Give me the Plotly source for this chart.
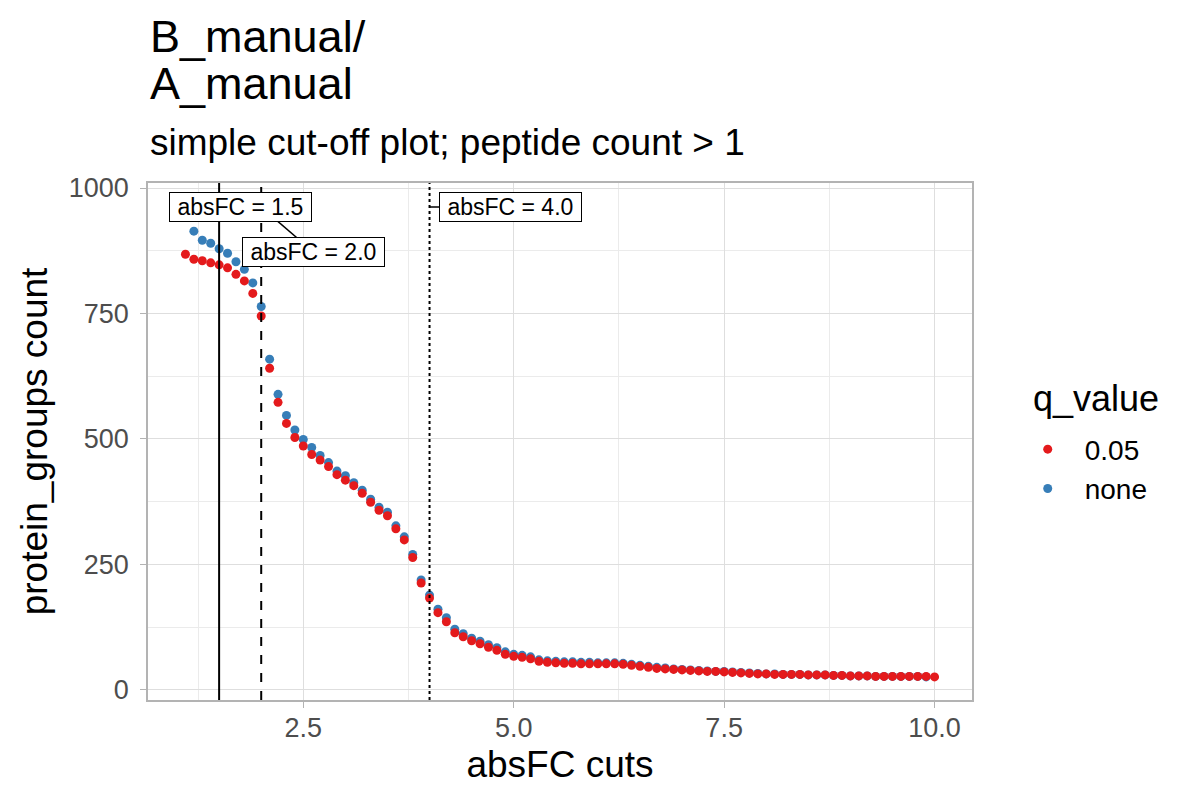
import plotly.graph_objects as go

# absFC cut values (x) for each q_value group
cuts_005 = [1.1, 1.2, 1.3, 1.4, 1.5, 1.6, 1.7, 1.8, 1.9, 2.0,
            2.1, 2.2, 2.3, 2.4, 2.5, 2.6, 2.7, 2.8, 2.9, 3.0,
            3.1, 3.2, 3.3, 3.4, 3.5, 3.6, 3.7, 3.8, 3.9, 4.0,
            4.1, 4.2, 4.3, 4.4, 4.5, 4.6, 4.7, 4.8, 4.9, 5.0,
            5.1, 5.2, 5.3, 5.4, 5.5, 5.6, 5.7, 5.8, 5.9, 6.0,
            6.1, 6.2, 6.3, 6.4, 6.5, 6.6, 6.7, 6.8, 6.9, 7.0,
            7.1, 7.2, 7.3, 7.4, 7.5, 7.6, 7.7, 7.8, 7.9, 8.0,
            8.1, 8.2, 8.3, 8.4, 8.5, 8.6, 8.7, 8.8, 8.9, 9.0,
            9.1, 9.2, 9.3, 9.4, 9.5, 9.6, 9.7, 9.8, 9.9, 10.0]
count_005 = [868, 858, 855, 851, 847, 841, 828, 815, 790, 745,
             641, 573, 531, 503, 486, 469, 458, 445, 429, 418,
             407, 392, 374, 358, 347, 321, 299, 264, 213, 183,
             154, 136, 114, 106, 98, 92, 85, 79, 71, 67,
             65, 62, 57, 55, 54, 53, 53, 52, 52, 52,
             52, 52, 51, 49, 47, 45, 43, 42, 41, 40,
             39, 38, 37, 37, 36, 35, 34, 33, 32, 32,
             31, 31, 31, 31, 30, 30, 30, 29, 29, 28,
             28, 28, 27, 27, 27, 27, 27, 27, 27, 26]

cuts_none = cuts_005[1:]
count_none = [914, 896, 890, 879, 870, 853, 838, 811, 764,
              659, 589, 547, 518, 499, 483, 467, 453, 436, 427,
              413, 398, 380, 364, 354, 327, 305, 270, 219, 189,
              161, 144, 121, 112, 103, 97, 90, 84, 76, 71,
              69, 66, 60, 58, 57, 56, 56, 55, 55, 54,
              54, 54, 53, 51, 49, 47, 45, 44, 42, 41,
              40, 39, 38, 37, 37, 36, 35, 34, 33, 32,
              32, 31, 31, 31, 30, 30, 30, 29, 29, 28,
              28, 28, 27, 27, 27, 27, 27, 27, 26]

# reference lines and their labels
vline_x = [1.5, 2.0, 4.0]
vline_dash = ['solid', 'dash', 'dot']
label_text = ['absFC = 1.5', 'absFC = 2.0', 'absFC = 4.0']
label_anchor_y = [962, 962, 962]
label_x = [1.749, 2.617, 4.965]
label_y = [962, 873, 962]

FONT = 'Liberation Sans, Arial, sans-serif'
RED = '#E41A1C'
BLUE = '#377EB8'

fig = go.Figure()

# blue first so the red points sit on top, like in the ggplot
fig.add_trace(go.Scatter(
    x=cuts_none, y=count_none, mode='markers', name='none',
    marker=dict(size=9, color=BLUE), legendrank=2
))
fig.add_trace(go.Scatter(
    x=cuts_005, y=count_005, mode='markers', name='0.05',
    marker=dict(size=9, color=RED), legendrank=1
))

shapes = []
for xv, dash in zip(vline_x, vline_dash):
    shapes.append(dict(type='line', xref='x', yref='paper', x0=xv, x1=xv,
                       y0=0, y1=1, line=dict(color='black', width=2, dash=dash)))
# repel segments from anchor to label (mostly hidden behind the boxes)
for xa, ya, xl, yl in zip(vline_x, label_anchor_y, label_x, label_y):
    shapes.append(dict(type='line', xref='x', yref='y', x0=xa, y0=ya, x1=xl, y1=yl,
                       line=dict(color='black', width=1.5)))

annotations = []
for t, xl, yl in zip(label_text, label_x, label_y):
    annotations.append(dict(text='\u00a0' + t + '\u00a0', x=xl, y=yl, xref='x', yref='y',
                            showarrow=False,
                            font=dict(family=FONT, size=23, color='black'),
                            bgcolor='white', bordercolor='black', borderwidth=1,
                            borderpad=1))

# titles
annotations.append(dict(text='B_manual/', xref='paper', yref='paper', x=0, y=1.2843,
                        xanchor='left', yanchor='middle', showarrow=False,
                        font=dict(family=FONT, size=45, color='black')))
annotations.append(dict(text='A_manual', xref='paper', yref='paper', x=0, y=1.1915,
                        xanchor='left', yanchor='middle', showarrow=False,
                        font=dict(family=FONT, size=45, color='black')))
annotations.append(dict(text='simple cut-off plot; peptide count > 1', xref='paper',
                        yref='paper', x=0, y=1.0793, xanchor='left', yanchor='middle',
                        showarrow=False, font=dict(family=FONT, size=37, color='black')))
# legend title
annotations.append(dict(text='q_value', xref='paper', yref='paper', x=1.0715, y=0.584,
                        xanchor='left', yanchor='middle', showarrow=False,
                        font=dict(family=FONT, size=36, color='black')))

fig.update_layout(
    width=1200, height=810,
    margin=dict(l=140, r=236, t=175, b=118),
    paper_bgcolor='white', plot_bgcolor='white',
    font=dict(family=FONT, color='black'),
    shapes=shapes, annotations=annotations,
    legend=dict(
        font=dict(size=28, color='black'),
        x=1.047, y=0.533, xanchor='left', yanchor='top',
        itemwidth=64, tracegroupgap=0
    ),
    xaxis=dict(
        range=[0.655, 10.445], tickvals=[2.5, 5.0, 7.5, 10.0],
        ticktext=['2.5', '5.0', '7.5', '10.0'],
        showgrid=True, gridcolor='#DEDEDE', gridwidth=1.2,
        minor=dict(showgrid=True, tickvals=[1.25, 3.75, 6.25, 8.75],
                   gridcolor='#EBEBEB', gridwidth=0.8),
        ticks='outside', ticklen=6, tickcolor='#B3B3B3', tickwidth=1.2,
        ticklabelstandoff=-3,
        tickfont=dict(size=27, color='#4D4D4D'),
        showline=True, linecolor='#B3B3B3', linewidth=1.5, mirror=True,
        zeroline=False,
        title=dict(text='absFC cuts', font=dict(size=37, color='black'), standoff=9)
    ),
    yaxis=dict(
        range=[-20, 1010], tickvals=[0, 250, 500, 750, 1000],
        showgrid=True, gridcolor='#DEDEDE', gridwidth=1.2,
        minor=dict(showgrid=True, tickvals=[125, 375, 625, 875],
                   gridcolor='#EBEBEB', gridwidth=0.8),
        ticks='outside', ticklen=6, tickcolor='#B3B3B3', tickwidth=1.2,
        ticklabelstandoff=6,
        tickfont=dict(size=27, color='#4D4D4D'),
        showline=True, linecolor='#B3B3B3', linewidth=1.5, mirror=True,
        zeroline=False,
        title=dict(text='protein_groups count', font=dict(size=37, color='black'),
                   standoff=10)
    )
)

fig.write_html("out.html")
